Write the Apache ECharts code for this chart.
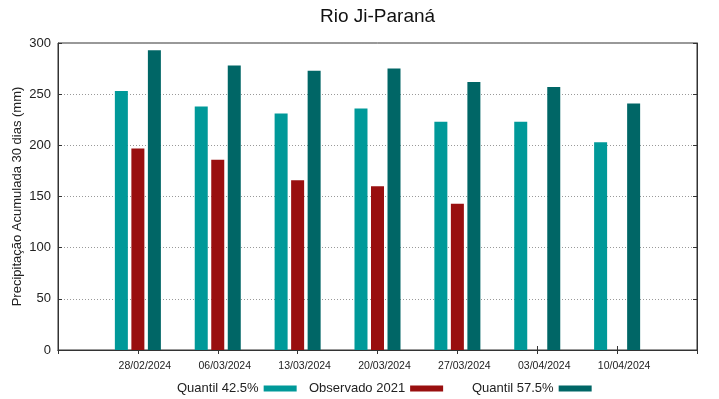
<!DOCTYPE html>
<html>
<head>
<meta charset="utf-8">
<script src="https://cdn.jsdelivr.net/npm/echarts@6/dist/echarts.min.js"></script>
<style>
html,body{margin:0;padding:0;background:#fff;}
#chart{width:719px;height:399px;}
</style>
</head>
<body>
<div id="chart"></div>
<script>
const categories = ['', '28/02/2024', '06/03/2024', '13/03/2024', '20/03/2024', '27/03/2024', '03/04/2024', '10/04/2024', ''];
const quantil425 = [null, 253, 238, 231, 236, 223, 223, 203, null];
const observado2021 = [null, 197, 186, 166, 160, 143, null, null, null];
const quantil575 = [null, 293, 278, 273, 275, 262, 257, 241, null];
const yTicks = [0, 50, 100, 150, 200, 250, 300];

const FONT = 'Liberation Sans, Arial, sans-serif';
const chart = echarts.init(document.getElementById('chart'), null, {renderer: 'canvas'});

const legendCommon = {
  top: 382, itemWidth: 33, itemHeight: 6, align: 'right', icon: 'rect',
  textStyle: {fontFamily: FONT, fontSize: 13, color: '#222'}, itemGap: 0, padding: 0,
  selectedMode: false
};

chart.setOption({
  animation: false,
  backgroundColor: '#fff',
  title: {
    text: 'Rio Ji-Paraná', left: 315, top: 2,
    textStyle: {fontFamily: FONT, fontSize: 19, fontWeight: 'normal', color: '#111'}
  },
  legend: [
    Object.assign({}, legendCommon, {left: 177, data: ['Quantil 42.5%']}),
    Object.assign({}, legendCommon, {left: 309, data: ['Observado 2021']}),
    Object.assign({}, legendCommon, {left: 472, data: ['Quantil 57.5%']})
  ],
  grid: {left: 58, right: 22, top: 43, bottom: 49, show: true, borderColor: '#333', borderWidth: 1, backgroundColor: 'transparent'},
  xAxis: [{
    type: 'category', data: categories, boundaryGap: false, position: 'bottom',
    axisLine: {show: true, lineStyle: {color: '#333'}},
    axisTick: {show: true, inside: true, length: 4, lineStyle: {color: '#333'}},
    axisLabel: {fontFamily: FONT, fontSize: 10.5, color: '#222', margin: 11, padding: [0, 0, 0, 14]},
    splitLine: {show: false}
  }, {
    type: 'category', data: categories, boundaryGap: false, position: 'top',
    axisLine: {show: true, lineStyle: {color: '#333'}},
    axisTick: {show: true, inside: true, length: 4, lineStyle: {color: '#333'}},
    axisLabel: {show: false}, splitLine: {show: false}
  }],
  yAxis: [{
    type: 'value', min: 0, max: 300, interval: 50, position: 'left',
    axisLine: {show: true, lineStyle: {color: '#333'}},
    axisTick: {show: true, inside: true, length: 4, lineStyle: {color: '#333'}},
    axisLabel: {fontFamily: FONT, fontSize: 13, color: '#222', margin: 7,
      formatter: v => yTicks.includes(v) ? String(v) : ''},
    splitLine: {show: true, lineStyle: {color: '#999', type: [1, 2], width: 1}},
    name: 'Precipitação Acumulada 30 dias (mm)', nameLocation: 'middle', nameGap: 34,
    nameMoveOverlap: false,
    nameTextStyle: {fontFamily: FONT, fontSize: 13, color: '#222'}
  }, {
    type: 'value', min: 0, max: 300, interval: 50, position: 'right',
    axisLine: {show: true, lineStyle: {color: '#333'}},
    axisTick: {show: true, inside: true, length: 4, lineStyle: {color: '#333'}},
    axisLabel: {show: false}, splitLine: {show: false}
  }],
  series: [{
    name: 'Quantil 42.5%', type: 'bar', data: quantil425, barWidth: 13, barGap: '27%',
    itemStyle: {color: '#009999'}
  }, {
    name: 'Observado 2021', type: 'bar', data: observado2021, barWidth: 13, barGap: '27%',
    itemStyle: {color: '#990f0f'}
  }, {
    name: 'Quantil 57.5%', type: 'bar', data: quantil575, barWidth: 13, barGap: '27%',
    itemStyle: {color: '#006666'}
  }]
});
</script>
</body>
</html>
